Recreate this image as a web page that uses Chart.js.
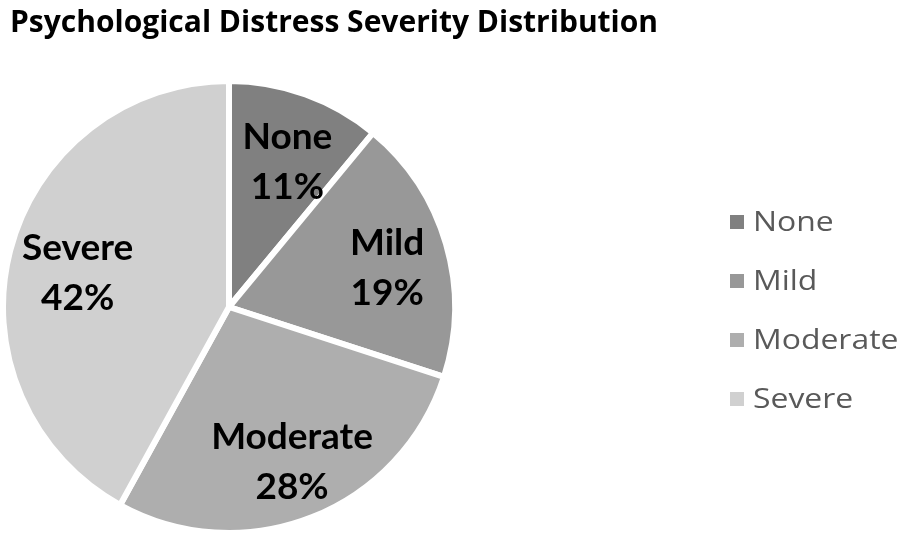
<!DOCTYPE html>
<html>
<head>
<meta charset="utf-8">
<script src="https://cdn.jsdelivr.net/npm/chart.js@4/dist/chart.umd.min.js"></script>
<style>
    html, body { margin: 0; padding: 0; background: #fff; }
    #wrap { width: 904px; height: 536px; }
</style>
</head>
<body>
<div id="wrap"><canvas id="pieChart" width="904" height="536"></canvas></div>
<script>
// chart data
const chartTitle = 'Psychological Distress Severity Distribution';
const categories = ['None', 'Mild', 'Moderate', 'Severe'];
const percentages = [11, 19, 28, 42];
const sliceColors = ['#808080', '#989898', '#aeaeae', '#d0d0d0'];

const LABEL_FONT = 'Lato, "Open Sans", sans-serif';
const WIDE_FONT = '"Open Sans", Lato, sans-serif';

/**
 * Title in the top left corner
 */
const topTitle = {
    id: 'topTitle',
    afterDraw(chart) {
        const ctx = chart.ctx;
        ctx.save();
        ctx.fillStyle = '#000';
        ctx.font = 'bold 30px ' + WIDE_FONT;
        ctx.textBaseline = 'alphabetic';
        ctx.fillText(chartTitle, 10, 32);
        ctx.restore();
    }
};

/**
 * Category name and percent inside each slice
 */
const sliceLabels = {
    id: 'sliceLabels',
    afterDatasetsDraw(chart) {
        const ctx = chart.ctx;
        const meta = chart.getDatasetMeta(0);
        ctx.save();
        ctx.fillStyle = '#000';
        ctx.font = 'bold 37px ' + LABEL_FONT;
        ctx.textAlign = 'center';
        ctx.textBaseline = 'middle';
        meta.data.forEach((arc, i) => {
            const mid = (arc.startAngle + arc.endAngle) / 2;
            const r = arc.outerRadius * 0.71;
            const x = arc.x + Math.cos(mid) * r + 4;
            const y = arc.y + Math.sin(mid) * r + 6;
            ctx.fillText(categories[i], x, y - 25);
            ctx.fillText(percentages[i] + '%', x, y + 25);
        });
        ctx.restore();
    }
};

/**
 * Legend on the right side (text stretched a little, like the original)
 */
const sideLegend = {
    id: 'sideLegend',
    afterDraw(chart) {
        const ctx = chart.ctx;
        const left = 730;
        const top = 222;
        const step = 59;
        const stretch = 1.14;
        ctx.save();
        ctx.font = '28px ' + WIDE_FONT;
        ctx.textBaseline = 'middle';
        categories.forEach((label, i) => {
            const y = top + i * step;
            ctx.fillStyle = sliceColors[i];
            ctx.fillRect(left, y - 7, 14, 14);
            ctx.save();
            ctx.translate(left + 23, y);
            ctx.scale(stretch, 1);
            ctx.fillStyle = '#595959';
            ctx.fillText(label, 0, 1);
            ctx.restore();
        });
        ctx.restore();
    }
};

new Chart(document.getElementById('pieChart'), {
    type: 'pie',
    data: {
        labels: categories,
        datasets: [{
            data: percentages,
            backgroundColor: sliceColors,
            borderColor: '#ffffff',
            borderWidth: 6
        }]
    },
    options: {
        responsive: false,
        animation: false,
        layout: {
            padding: { left: 0, right: 446, top: 78, bottom: 0 }
        },
        plugins: {
            legend: { display: false },
            tooltip: { enabled: false },
            title: { display: false }
        }
    },
    plugins: [topTitle, sliceLabels, sideLegend]
});
</script>
</body>
</html>
